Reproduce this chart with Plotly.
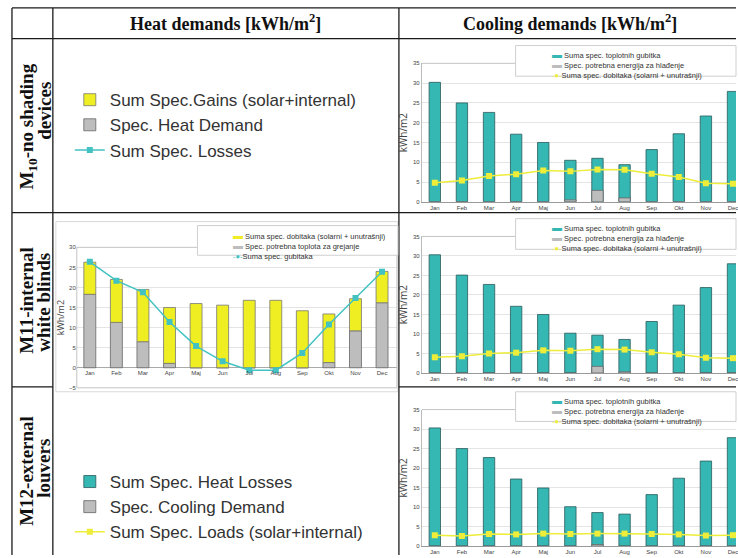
import plotly.graph_objects as go

W, H = 738, 558

months = ['Jan', 'Feb', 'Mar', 'Apr', 'Maj', 'Jun', 'Jul', 'Aug', 'Sep', 'Okt', 'Nov', 'Dec']

# M11 - heat demands [kWh/m2]
m11_heat_demand = [18.3, 11.3, 6.5, 1.1, 0, 0, 0, 0, 0, 1.3, 9.2, 16.2]
m11_heat_gains = [8.0, 10.7, 13.0, 13.9, 16.0, 15.6, 16.8, 16.8, 14.2, 12.1, 8.0, 7.8]
m11_heat_losses = [26.4, 21.7, 18.8, 11.4, 5.4, 1.6, -0.6, -0.6, 3.7, 10.8, 17.4, 23.9]

# cooling demands [kWh/m2]
m10_losses = [30.2, 25.0, 22.6, 17.1, 15.0, 10.5, 11.0, 9.4, 13.2, 17.2, 21.7, 27.9]
m10_cooling = [0, 0, 0, 0, 0, 0.5, 2.9, 1.0, 0, 0, 0, 0]
m10_loads = [4.8, 5.4, 6.5, 7.0, 7.9, 7.7, 8.2, 8.1, 7.1, 6.3, 4.7, 4.6]

m11_losses = [30.3, 25.1, 22.7, 17.1, 15.0, 10.2, 9.7, 8.6, 13.2, 17.4, 21.9, 28.0]
m11_cooling = [0, 0, 0, 0, 0, 0, 1.7, 0.3, 0, 0, 0, 0]
m11_loads = [4.0, 4.3, 5.0, 5.2, 5.8, 5.7, 6.1, 6.0, 5.3, 4.8, 3.9, 3.8]

m12_losses = [30.3, 25.0, 22.7, 17.2, 14.9, 10.1, 8.6, 8.2, 13.2, 17.4, 21.8, 27.8]
m12_cooling = [0, 0, 0, 0, 0, 0, 0.4, 0, 0, 0, 0, 0]
m12_loads = [2.8, 2.6, 3.1, 3.0, 3.2, 3.1, 3.2, 3.2, 3.1, 3.0, 2.7, 2.8]

TEAL = '#35b8b4'
GRAY = '#bdbdbd'
YELLOW = '#eeee22'
LINE_TEAL = '#42c2c2'
LINE_YEL = '#eded3a'


def px(x):
    return x / W


def py(y):
    return 1 - y / H


fig = go.Figure()

# heat chart (M11)
fig.add_trace(go.Bar(x=months, y=m11_heat_demand, name='Spec. Heat Demand', width=0.45,
                     marker=dict(color=GRAY, line=dict(color='#666', width=0.8)),
                     legendrank=2, xaxis='x', yaxis='y'))
fig.add_trace(go.Bar(x=months, y=m11_heat_gains, base=m11_heat_demand,
                     name='Sum Spec.Gains (solar+internal)', width=0.45,
                     marker=dict(color=YELLOW, line=dict(color='#777', width=0.8)),
                     legendrank=1, xaxis='x', yaxis='y'))
fig.add_trace(go.Scatter(x=months, y=m11_heat_losses, name='Sum Spec. Losses', mode='lines+markers',
                         line=dict(color=LINE_TEAL, width=1.5),
                         marker=dict(symbol='square', size=6, color=LINE_TEAL),
                         legendrank=3, xaxis='x', yaxis='y'))

# cooling charts
cool_sets = [(m10_losses, m10_cooling, m10_loads), (m11_losses, m11_cooling, m11_loads),
             (m12_losses, m12_cooling, m12_loads)]
for i, (losses, cooling, loads) in enumerate(cool_sets):
    xa, ya = 'x%d' % (i + 2), 'y%d' % (i + 2)
    show = i == 0
    fig.add_trace(go.Bar(x=months, y=losses, name='Sum Spec. Heat Losses', width=0.42,
                         marker=dict(color=TEAL, line=dict(color='#2a5a5a', width=0.8)),
                         showlegend=show, legend='legend2', legendrank=1, xaxis=xa, yaxis=ya))
    fig.add_trace(go.Bar(x=months, y=cooling, name='Spec. Cooling Demand', width=0.42,
                         marker=dict(color=GRAY, line=dict(color='#666', width=0.8)),
                         showlegend=show, legend='legend2', legendrank=2, xaxis=xa, yaxis=ya))
    fig.add_trace(go.Scatter(x=months, y=loads, name='Sum Spec. Loads (solar+internal)',
                             mode='lines+markers', line=dict(color=LINE_YEL, width=1.5),
                             marker=dict(symbol='square', size=6, color=LINE_YEL),
                             showlegend=show, legend='legend2', legendrank=3, xaxis=xa, yaxis=ya))

tickfont = dict(size=6, color='#444', family='Liberation Sans, Arial')
grid = '#e4e4e4'

# heat axes
hy0, hy1 = py(389), py(247)
hmin, hmax = -5, 30
zero_pos = hy0 + (0 - hmin) / (hmax - hmin) * (hy1 - hy0)
layout_axes = dict(
    xaxis=dict(domain=[px(77), px(398)], anchor='free', position=zero_pos, type='category',
               range=[-0.49, 11.56], tickfont=tickfont, showgrid=False, ticks=''),
    yaxis=dict(domain=[hy0, hy1], range=[hmin, hmax], dtick=5, anchor='x', tickfont=tickfont,
               gridcolor=grid, zeroline=True, zerolinecolor='#aaa', zerolinewidth=1,
               title=dict(text='kWh/m2', font=dict(size=9, color='#444'), standoff=2)),
)
cool_doms = [(201, 61), (374, 236), (549, 411)]
for i, (b, t) in enumerate(cool_doms):
    n = i + 2
    layout_axes['xaxis%d' % n] = dict(domain=[px(423), 1], anchor='y%d' % n, type='category',
                                      range=[-0.478, 11.11], tickfont=tickfont, showgrid=False,
                                      showline=True, linecolor='#999', ticks='')
    layout_axes['yaxis%d' % n] = dict(domain=[py(b), py(t)], range=[0, 35], dtick=5,
                                      anchor='x%d' % n, tickfont=tickfont, gridcolor=grid,
                                      showline=True, linecolor='#bbb', zeroline=False,
                                      title=dict(text='kWh/m2', font=dict(size=10, color='#444'),
                                                 standoff=3))

shapes = []
ink = dict(color='#1a1a1a', width=1.3)
# table lines
for y in [5, 36, 212]:
    shapes.append(dict(type='line', xref='paper', yref='paper', x0=px(12), x1=1, y0=py(y), y1=py(y), line=ink))
shapes.append(dict(type='line', xref='paper', yref='paper', x0=px(12), x1=px(53), y0=py(388), y1=py(388), line=ink))
shapes.append(dict(type='line', xref='paper', yref='paper', x0=px(400), x1=1, y0=py(388), y1=py(388), line=ink))
for x in [12, 53, 400]:
    shapes.append(dict(type='line', xref='paper', yref='paper', x0=px(x), x1=px(x), y0=py(5), y1=0, line=ink))

# heat chart picture border and plot frame
shapes.append(dict(type='rect', xref='paper', yref='paper', x0=px(56), x1=px(399), y0=py(393), y1=py(221),
                   line=dict(color='#d8d8d8', width=1), layer='below'))
shapes.append(dict(type='rect', xref='x domain', yref='y domain', x0=0, x1=1, y0=0, y1=1,
                   line=dict(color='#c4c4c4', width=1)))
for n in [2, 3, 4]:
    shapes.append(dict(type='line', xref='x%d domain' % n, yref='y%d domain' % n, x0=0, x1=1, y0=1, y1=1,
                       line=dict(color='#c4c4c4', width=1)))

# small legend boxes
boxes = [(198, 399, 225, 255), (517, 738, 43, 74), (517, 738, 218, 249), (517, 738, 393, 423)]
for x0, x1, y0, y1 in boxes:
    shapes.append(dict(type='rect', xref='paper', yref='paper', x0=px(x0), x1=px(x1), y0=py(y1), y1=py(y0),
                       line=dict(color='#cfcfcf', width=1), fillcolor='white'))

annotations = []
serif = 'Liberation Serif, Times New Roman'
annotations.append(dict(xref='paper', yref='paper', x=px(226), y=py(20), xanchor='center', yanchor='middle',
                        showarrow=False, text='<b>Heat demands [kWh/m<sup>2</sup>]</b>',
                        font=dict(family=serif, size=18, color='#111')))
annotations.append(dict(xref='paper', yref='paper', x=px(572), y=py(20), xanchor='center', yanchor='middle',
                        showarrow=False, text='<b>Cooling demands [kWh/m<sup>2</sup>]</b>',
                        font=dict(family=serif, size=18, color='#111')))

row_labels = [('M<sub>10</sub>-no shading', 28, 125), ('devices', 45, 109),
              ('M11-internal', 27, 300), ('white blinds', 44, 302),
              ('M12-external', 27, 473), ('louvers', 44, 470)]
for text, x, y in row_labels:
    annotations.append(dict(xref='paper', yref='paper', x=px(x), y=py(y), xanchor='center', yanchor='middle',
                            showarrow=False, textangle=-90,
                            text='<b>%s</b>' % text, font=dict(family=serif, size=19, color='#111')))


def sym_bar(c):
    return "<span style='color:%s;font-size:10px'>▬</span> " % c


def sym_line(c):
    return "<span style='color:%s'>-●-</span>" % c


small = dict(size=7.5, color='#333', family='Liberation Sans, Arial')
heat_leg = [sym_bar(YELLOW) + 'Suma spec. dobitaka (solarni + unutrašnji)',
            sym_bar(GRAY) + 'Spec. potrebna toplota za grejanje',
            sym_line(LINE_TEAL) + 'Suma spec. gubitaka']
annotations.append(dict(xref='paper', yref='paper', x=px(232), y=py(227), xanchor='left', yanchor='top',
                        align='left', showarrow=False, text='<br>'.join(heat_leg), font=small))
cool_leg = [sym_bar(TEAL) + 'Suma spec. toplotnih gubitka',
            sym_bar(GRAY) + 'Spec. potrebna energija za hlađenje',
            sym_line(LINE_YEL) + 'Suma spec. dobitaka (solarni + unutrašnji)']
for top in [43, 218, 393]:
    annotations.append(dict(xref='paper', yref='paper', x=px(551), y=py(top + 1), xanchor='left',
                            yanchor='top', align='left', showarrow=False, text='<br>'.join(cool_leg),
                            font=small))

big = dict(size=17, color='#333', family='Liberation Sans, Arial')
fig.update_layout(
    width=W, height=H, margin=dict(l=0, r=0, t=0, b=0),
    paper_bgcolor='white', plot_bgcolor='white', barmode='overlay',
    showlegend=True,
    legend=dict(x=px(70), y=py(80), xanchor='left', yanchor='top', font=big,
                bgcolor='rgba(0,0,0,0)', tracegroupgap=0),
    legend2=dict(x=px(70), y=py(466), xanchor='left', yanchor='top', font=big,
                 bgcolor='rgba(0,0,0,0)', tracegroupgap=0),
    shapes=shapes, annotations=annotations,
    **layout_axes
)

fig.write_html("out.html", config={'displayModeBar': False},
               post_script="document.body.style.margin='0';")
